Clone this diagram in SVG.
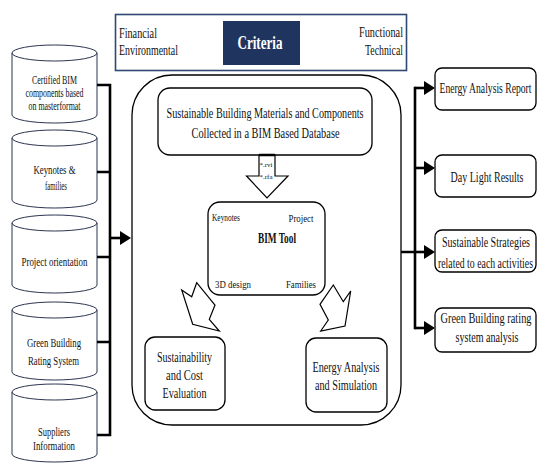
<svg xmlns="http://www.w3.org/2000/svg" width="538" height="463" viewBox="0 0 538 463">
<defs>
<style>
text{font-family:"Liberation Serif","Times New Roman",serif;fill:#111;font-size:14px;}
.c{text-anchor:middle;}
.s{font-size:12px;}
.xs{font-size:11px;}
.t{font-size:7px;}
.cyl{fill:#fff;stroke:#2b3550;stroke-width:1;}
.box{fill:#fff;stroke:#000;stroke-width:1.3;}
.conn{fill:none;stroke:#000;stroke-width:2.6;}
.hol{fill:#fff;stroke:#000;stroke-width:1.2;stroke-linejoin:miter;}
</style>
<marker id="ah" markerWidth="11" markerHeight="14" refX="0" refY="7" orient="auto" markerUnits="userSpaceOnUse"><path d="M0,0 L11,7 L0,14 Z" fill="#000"/></marker>
</defs>
<rect width="538" height="463" fill="#fff"/>

<g id="criteria">
<rect x="115.5" y="14.5" width="291" height="56" fill="#fff" stroke="#2e4773" stroke-width="1.6"/>
<rect x="223" y="21" width="77" height="44" fill="#1f355f"/>
<text x="260" y="48.5" class="c" style="font-size:18px;font-weight:bold;fill:#fff" textLength="45" lengthAdjust="spacingAndGlyphs">Criteria</text>
<text x="119" y="37.5" textLength="38" lengthAdjust="spacingAndGlyphs">Financial</text>
<text x="119" y="54.5" textLength="59" lengthAdjust="spacingAndGlyphs">Environmental</text>
<text x="359" y="36.5" textLength="44" lengthAdjust="spacingAndGlyphs">Functional</text>
<text x="365" y="54.5" textLength="38" lengthAdjust="spacingAndGlyphs">Technical</text>
</g>

<g id="db1">
<path class="cyl" d="M12,53 A42.5,8 0 0,1 97,53 L97,115 A42.5,8 0 0,1 12,115 Z M12,53 A42.5,8 0 0,0 97,53"/>
<text x="54.5" y="84" class="c s" textLength="45" lengthAdjust="spacingAndGlyphs">Certified BIM</text>
<text x="54.5" y="97" class="c s" textLength="58" lengthAdjust="spacingAndGlyphs">components based</text>
<text x="54.5" y="110" class="c s" textLength="52" lengthAdjust="spacingAndGlyphs">on masterformat</text>
</g>
<g id="db2">
<path class="cyl" d="M12,138 A42.5,8 0 0,1 97,138 L97,200 A42.5,8 0 0,1 12,200 Z M12,138 A42.5,8 0 0,0 97,138"/>
<text x="54.5" y="174" class="c s" textLength="42" lengthAdjust="spacingAndGlyphs">Keynotes &amp;</text>
<text x="56" y="190" class="c s" textLength="22" lengthAdjust="spacingAndGlyphs">families</text>
</g>
<g id="db3">
<path class="cyl" d="M12,223 A42.5,8 0 0,1 97,223 L97,285 A42.5,8 0 0,1 12,285 Z M12,223 A42.5,8 0 0,0 97,223"/>
<text x="54.5" y="266" class="c s" textLength="66" lengthAdjust="spacingAndGlyphs">Project orientation</text>
</g>
<g id="db4">
<path class="cyl" d="M12,310 A42.5,8 0 0,1 97,310 L97,372 A42.5,8 0 0,1 12,372 Z M12,310 A42.5,8 0 0,0 97,310"/>
<text x="54" y="347" class="c s" textLength="54" lengthAdjust="spacingAndGlyphs">Green Building</text>
<text x="53.5" y="365" class="c s" textLength="51" lengthAdjust="spacingAndGlyphs">Rating System</text>
</g>
<g id="db5">
<path class="cyl" d="M12,392 A42.5,8 0 0,1 97,392 L97,454 A42.5,8 0 0,1 12,454 Z M12,392 A42.5,8 0 0,0 97,392"/>
<text x="54" y="436" class="c s" textLength="32" lengthAdjust="spacingAndGlyphs">Suppliers</text>
<text x="54" y="450" class="c s" textLength="42" lengthAdjust="spacingAndGlyphs">Information</text>
</g>

<g id="container">
<rect x="132" y="75" width="269" height="350" rx="40" ry="40" fill="none" stroke="#000" stroke-width="1.3"/>
</g>

<g id="database">
<rect class="box" x="158" y="88" width="214" height="67" rx="12" ry="12"/>
<text x="265" y="118" class="c" textLength="197" lengthAdjust="spacingAndGlyphs">Sustainable Building Materials and Components</text>
<text x="265.5" y="138" class="c" textLength="148" lengthAdjust="spacingAndGlyphs">Collected in  a BIM Based Database</text>
</g>

<g id="downArrow">
<path class="hol" d="M259,155 L275,155 L275,176 L288,176 L267,198 L246.5,176 L259,176 Z"/>
<line x1="259" y1="155" x2="275" y2="155" stroke="#000" stroke-width="2.5"/>
<text x="259.5" y="167" class="t">*.rvi</text>
<text x="259.5" y="179" class="t">*.rfa</text>
</g>

<g id="bimtool">
<rect class="box" x="208" y="202" width="117" height="93" rx="12" ry="12"/>
<text x="212" y="220.5" class="xs" textLength="28" lengthAdjust="spacingAndGlyphs">Keynotes</text>
<text x="288.5" y="221.5" class="xs" textLength="25" lengthAdjust="spacingAndGlyphs">Project</text>
<text x="277" y="243" class="c" style="font-weight:bold" textLength="38" lengthAdjust="spacingAndGlyphs">BIM Tool</text>
<text x="215" y="287.5" class="xs" textLength="36" lengthAdjust="spacingAndGlyphs">3D design</text>
<text x="286" y="287.5" class="xs" textLength="30" lengthAdjust="spacingAndGlyphs">Families</text>
</g>

<g id="arrowLeft">
<path class="hol" d="M181.7,290 L191.7,296.7 L196.7,282.7 L215,305 L209.3,319.3 L219.3,331 L192.7,324.3 Z"/>
</g>
<g id="arrowRight">
<path class="hol" d="M333.3,285 L343.3,301.7 L350.7,291 L345,326 L320.7,331 L328.3,320 L320,304.3 Z"/>
</g>

<g id="sustain">
<rect class="box" x="145" y="337" width="80" height="73" rx="10" ry="10"/>
<text x="184.5" y="362" class="c" textLength="55" lengthAdjust="spacingAndGlyphs">Sustainability</text>
<text x="184.5" y="380" class="c" textLength="37" lengthAdjust="spacingAndGlyphs">and Cost</text>
<text x="184.5" y="398" class="c" textLength="44" lengthAdjust="spacingAndGlyphs">Evaluation</text>
</g>

<g id="energySim">
<rect class="box" x="306" y="338" width="81" height="74" rx="10" ry="10"/>
<text x="346" y="372" class="c" textLength="67" lengthAdjust="spacingAndGlyphs">Energy Analysis</text>
<text x="346" y="390" class="c" textLength="62" lengthAdjust="spacingAndGlyphs">and Simulation</text>
</g>

<g id="out1">
<rect class="box" x="435" y="68" width="101" height="42" rx="7" ry="7"/>
<text transform="translate(485.5,93) scale(0.7,1)" class="c" textLength="131.4" lengthAdjust="spacingAndGlyphs">Energy Analysis Report</text>
</g>
<g id="out2">
<rect class="box" x="435" y="155" width="101" height="42" rx="7" ry="7"/>
<text transform="translate(487,181.5) scale(0.7,1)" class="c" textLength="104.3" lengthAdjust="spacingAndGlyphs">Day Light Results</text>
</g>
<g id="out3">
<rect class="box" x="435" y="230" width="101" height="42" rx="7" ry="7"/>
<text transform="translate(486,246.5) scale(0.7,1)" class="c" textLength="125.7" lengthAdjust="spacingAndGlyphs">Sustainable Strategies</text>
<text transform="translate(485.5,267.5) scale(0.7,1)" class="c" textLength="135.7" lengthAdjust="spacingAndGlyphs">related to each activities</text>
</g>
<g id="out4">
<rect class="box" x="435" y="308" width="101" height="44" rx="7" ry="7"/>
<text transform="translate(486,323) scale(0.7,1)" class="c" textLength="130" lengthAdjust="spacingAndGlyphs">Green Building rating</text>
<text transform="translate(487,341.5) scale(0.7,1)" class="c" textLength="90" lengthAdjust="spacingAndGlyphs">system analysis</text>
</g>

<g id="connectors">
<path class="conn" d="M97,85 H110 M97,172 H110 M97,257 H110 M97,342 H110 M97,435 H110 M110,83.7 V436.3"/>
<path class="conn" d="M110,238 H120" marker-end="url(#ah)"/>
<path class="conn" d="M401,252 H415 M415,86.7 V329.3"/>
<path class="conn" d="M415,88 H424" marker-end="url(#ah)"/>
<path class="conn" d="M415,168 H424" marker-end="url(#ah)"/>
<path class="conn" d="M415,252 H424" marker-end="url(#ah)"/>
<path class="conn" d="M415,328 H424" marker-end="url(#ah)"/>
</g>
</svg>
